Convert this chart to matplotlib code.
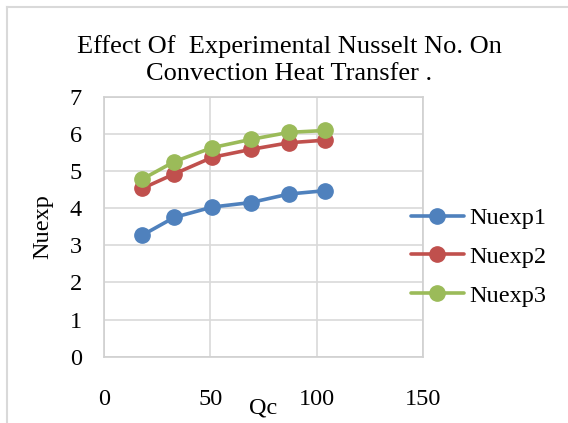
import matplotlib
matplotlib.use("Agg")
import matplotlib.pyplot as plt
from matplotlib.lines import Line2D

# Coolant heat flow (Qc) and experimental Nusselt numbers for three runs
qc = [18, 33, 51, 69, 87, 104]
nuexp1 = [3.27, 3.75, 4.03, 4.15, 4.38, 4.47]
nuexp2 = [4.53, 4.92, 5.37, 5.58, 5.76, 5.83]
nuexp3 = [4.78, 5.25, 5.63, 5.85, 6.04, 6.09]

series_names = ["Nuexp1", "Nuexp2", "Nuexp3"]
series_colors = ["#4F81BD", "#C0504D", "#9BBB59"]
x_ticks = [0, 50, 100, 150]
y_ticks = [0, 1, 2, 3, 4, 5, 6, 7]

plt.rcParams["font.family"] = ["Liberation Serif", "DejaVu Serif"]

W, H = 568, 423
fig = plt.figure(figsize=(W / 100, H / 100), dpi=100)
fig.patch.set_facecolor("white")

# chart frame (top and left edges visible)
frame_col = "#d9d9d9"
fig.add_artist(Line2D([7 / W, 1.0], [1 - 7 / H, 1 - 7 / H], color=frame_col, lw=1.5,
                      transform=fig.transFigure))
fig.add_artist(Line2D([7 / W, 7 / W], [0.0, 1 - 7 / H], color=frame_col, lw=1.5,
                      transform=fig.transFigure))

left, right, top, bottom = 104, 423, 96.7, 356.7
ax = fig.add_axes([left / W, 1 - bottom / H, (right - left) / W, (bottom - top) / H])

for name, ys, col in zip(series_names, [nuexp1, nuexp2, nuexp3], series_colors):
    ax.plot(qc, ys, color=col, lw=2.6, marker="o", markersize=11, label=name,
            solid_capstyle="round")

ax.set_xlim(0, 150)
ax.set_ylim(0, 7)
ax.set_xticks(x_ticks)
ax.set_yticks(y_ticks)
ax.grid(True, color="#d9d9d9", lw=1.2)
ax.set_axisbelow(True)
for s in ax.spines.values():
    s.set_color("#d0d0d0")
    s.set_linewidth(1.2)
ax.tick_params(length=0, labelsize=17.5, colors="black")
ax.tick_params(axis="x", pad=23)
ax.tick_params(axis="y", pad=16)

ax.set_xlabel("Qc", fontsize=17.5, labelpad=-9)
ax.set_ylabel("Nuexp", fontsize=17.5, labelpad=12)

fig.text(289 / W, 1 - 60 / H,
         "Effect Of  Experimental Nusselt No. On\nConvection Heat Transfer .",
         ha="center", va="center", fontsize=19, linespacing=1.3)

handles, labels = ax.get_legend_handles_labels()
fig.legend(handles, labels, loc="center left", bbox_to_anchor=(401 / W, 1 - 257 / H),
           frameon=False, fontsize=17.5, handlelength=2.2, handletextpad=0.2,
           labelspacing=0.68, borderaxespad=0)

fig.savefig("out.png", dpi=100, facecolor="white")
